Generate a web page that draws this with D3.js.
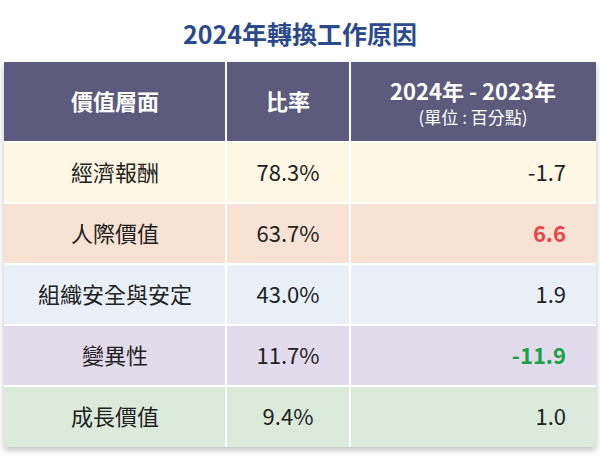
<!DOCTYPE html><html><head><meta charset="utf-8"><script src="https://cdn.jsdelivr.net/npm/d3@7"></script>
<style>body{margin:0;background:#fff}text{font-family:"Noto Sans CJK TC","Noto Sans",sans-serif}</style></head><body><svg id="c" width="600" height="473"></svg>
<script>
const title="2024年轉換工作原因";
const headers=["價值層面","比率","2024年 - 2023年"];
const subHeader="(單位 : 百分點)";
const categories=["經濟報酬","人際價值","組織安全與安定","變異性","成長價值"];
const rates=[78.3,63.7,43.0,11.7,9.4];
const changes=[-1.7,6.6,1.9,-11.9,1.0];
const rowColors=["#fdf7e3","#f7e2d4","#e9f0f8","#e2dbec","#dbeadb"];
const svg=d3.select("#c");
const tTop=62, headH=80, rowH=61;
const y=d3.scaleBand().domain(categories).range([tTop+headH,tTop+headH+rowH*categories.length]);
svg.append("defs").html('<filter id="s" x="-5%" y="-5%" width="110%" height="115%"><feDropShadow dx="0" dy="3" stdDeviation="3" flood-color="#000" flood-opacity="0.25"/></filter>');
svg.append("text").attr("x",300).attr("y",44).attr("text-anchor","middle").attr("font-size",25).attr("font-weight",700).attr("fill","#2b4a8b").text(title);
svg.append("rect").attr("x",4).attr("y",tTop).attr("width",592).attr("height",headH+rowH*5).attr("fill","#fff").attr("filter","url(#s)");
svg.append("rect").attr("x",4).attr("y",tTop).attr("width",592).attr("height",headH).attr("fill","#5c5b7e");
categories.forEach((c,i)=>svg.append("rect").attr("x",4).attr("y",y(c)).attr("width",592).attr("height",rowH).attr("fill",rowColors[i]));
[226,350].forEach(x=>svg.append("line").attr("x1",x).attr("x2",x).attr("y1",tTop).attr("y2",tTop+headH+rowH*5).attr("stroke","#fff").attr("stroke-width",2));
categories.forEach(c=>svg.append("line").attr("x1",4).attr("x2",596).attr("y1",y(c)).attr("y2",y(c)).attr("stroke","#fff").attr("stroke-width",2));
const hy=tTop+headH/2;
svg.append("text").attr("x",115).attr("y",hy+8).attr("text-anchor","middle").attr("font-size",22).attr("font-weight",700).attr("fill","#fff").text(headers[0]);
svg.append("text").attr("x",288).attr("y",hy+8).attr("text-anchor","middle").attr("font-size",22).attr("font-weight",700).attr("fill","#fff").text(headers[1]);
svg.append("text").attr("x",473).attr("y",hy-2).attr("text-anchor","middle").attr("font-size",22).attr("font-weight",700).attr("fill","#fff").text(headers[2]);
svg.append("text").attr("x",473).attr("y",hy+22).attr("text-anchor","middle").attr("font-size",17).attr("fill","#fff").text(subHeader);
categories.forEach((c,i)=>{
 const cy=y(c)+rowH/2+8;
 svg.append("text").attr("x",115).attr("y",cy).attr("text-anchor","middle").attr("font-size",22).attr("fill","#222").text(c);
 svg.append("text").attr("x",288).attr("y",cy).attr("text-anchor","middle").attr("font-size",22).attr("fill","#222").text(rates[i].toFixed(1)+"%");
 const v=changes[i];
 const col=v>5?"#e8474a":v<-5?"#19a24a":"#222";
 svg.append("text").attr("x",566).attr("y",cy).attr("text-anchor","end").attr("font-size",22).attr("font-weight",Math.abs(v)>5?700:400).attr("fill",col).text(v.toFixed(1));
});
</script></body></html>
